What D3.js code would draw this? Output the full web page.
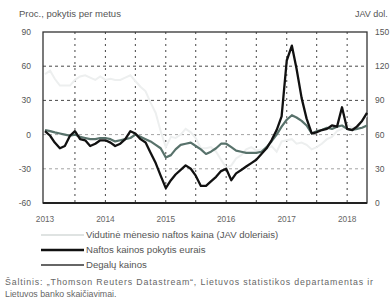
<!DOCTYPE html>
<html>
<head>
<meta charset="utf-8">
<script src="https://cdn.jsdelivr.net/npm/d3@7"></script>
<style>
    body { margin: 0; background: #fff; }
    text { font-family: "Liberation Sans", Arial, sans-serif; }
</style>
</head>
<body>
<div id="chart"></div>
<script>
    // monthly data, Jan 2013 - May 2018
    var startMonth = new Date(2013, 0, 1);
    var yearTicks = ['2013', '2014', '2015', '2016', '2017', '2018'];
    var leftTicks = [-60, -30, 0, 30, 60, 90];
    var rightTicks = [0, 30, 60, 90, 120, 150];

    var oilUsd = [113, 116, 109, 103, 103, 103, 108, 111, 112, 110, 108, 111,
                  108, 109, 108, 108, 110, 112, 107, 102, 98, 88, 79, 63,
                  49, 58, 57, 60, 65, 62, 57, 48, 48, 49, 45, 38,
                  31, 33, 39, 42, 47, 49, 46, 47, 47, 50, 45, 54,
                  55, 56, 52, 53, 51, 47, 49, 52, 56, 58, 63, 65,
                  69, 66, 66, 72, 77];
    var oilEurChange = [3, -1, -7, -12, -10, -1, 3, -4, -5, -10, -8, -5,
                        -5, -7, -10, -8, -4, 3, 1, -4, -7, -16, -25, -36,
                        -47, -40, -35, -31, -27, -30, -36, -45, -45, -41, -37, -32,
                        -30, -40, -34, -31, -28, -25, -22, -17, -12, -5, 4, 16,
                        65, 78, 58, 32, 14, 1, 2, 4, 5, 8, 7, 24,
                        5, 4, 7, 12, 19];
    var fuelChange = [4, 3, 2, 1, 0, -1, 0, -2, -3, -4, -4, -3,
                      -3, -4, -6, -5, -4, -3, 0, -2, -4, -6, -9, -12,
                      -20, -18, -13, -9, -8, -7, -10, -13, -17, -15, -12, -8,
                      -8, -11, -14, -15, -16, -16, -16, -15, -11, -6, 0, 7,
                      13, 17, 15, 12, 8, 1, 3, 4, 6, 5, 7, 8,
                      5, 4, 5, 6, 8];
    var legendLabels = ['Vidutinė mėnesio naftos kaina (JAV doleriais)',
                        'Naftos kainos pokytis eurais',
                        'Degalų kainos'];

(function () {
    'use strict';

    var w = 390, h = 306,
        x0 = 45, x1 = 367,        // plot edges
        y0 = 32, y1 = 203;

    var months = oilUsd.map(function (d, i) {
        return d3.timeMonth.offset(startMonth, i);
    });

    var x = d3.scaleTime()
        .domain([months[0], months[months.length - 1]])
        .range([x0, x1]);
    var yL = d3.scaleLinear().domain([-60, 90]).range([y1, y0]);
    var yR = d3.scaleLinear().domain([0, 150]).range([y1, y0]);

    var svg = d3.select('#chart').append('svg')
        .attr('width', w)
        .attr('height', h);

    // grid
    var halfYears = d3.timeMonth.every(6).range(d3.timeMonth.offset(startMonth, 6), months[months.length - 1]);
    svg.append('g').selectAll('line')
        .data(halfYears)
        .enter().append('line')
        .attr('x1', function (d) { return x(d); })
        .attr('x2', function (d) { return x(d); })
        .attr('y1', y0).attr('y2', y1)
        .attr('stroke', '#444')
        .attr('stroke-width', 1)
        .attr('stroke-dasharray', '2,4');

    svg.append('g').selectAll('line')
        .data(leftTicks.slice(1, -1))
        .enter().append('line')
        .attr('x1', x0 - 2).attr('x2', x1)
        .attr('y1', function (d) { return yL(d); })
        .attr('y2', function (d) { return yL(d); })
        .attr('stroke', function (d) { return d > 0 ? '#333' : '#999'; })
        .attr('stroke-width', 0.9)
        .attr('stroke-dasharray', '3,3');

    // frame
    svg.append('rect')
        .attr('x', x0 - 2).attr('y', y0)
        .attr('width', x1 - x0 + 2).attr('height', y1 - y0)
        .attr('fill', 'none')
        .attr('stroke', '#333')
        .attr('stroke-width', 1.3);
    svg.append('line')
        .attr('x1', x0 - 2).attr('x2', x1)
        .attr('y1', y1).attr('y2', y1)
        .attr('stroke', '#222')
        .attr('stroke-width', 2);

    // axis labels
    svg.append('g').selectAll('text')
        .data(leftTicks)
        .enter().append('text')
        .attr('x', 31)
        .attr('y', function (d) { return yL(d) + 3; })
        .attr('text-anchor', 'end')
        .attr('font-size', 8.5)
        .attr('fill', '#555')
        .text(function (d) { return d; });

    svg.append('g').selectAll('text')
        .data(rightTicks)
        .enter().append('text')
        .attr('x', 375)
        .attr('y', function (d) { return yR(d) + 3; })
        .attr('font-size', 8.5)
        .attr('fill', '#555')
        .text(function (d) { return d; });

    svg.append('g').selectAll('text')
        .data(yearTicks)
        .enter().append('text')
        .attr('x', function (d) { return x(new Date(+d, 0, 1)); })
        .attr('y', 222)
        .attr('text-anchor', 'middle')
        .attr('font-size', 8.3)
        .attr('fill', '#666')
        .text(function (d) { return d; });

    svg.append('text')
        .attr('x', 19).attr('y', 17)
        .attr('font-size', 9.5)
        .attr('fill', '#555')
        .text('Proc., pokytis per metus');
    svg.append('text')
        .attr('x', 355).attr('y', 17)
        .attr('font-size', 9)
        .attr('fill', '#555')
        .text('JAV dol.');

    // lines
    var lineR = d3.line()
        .x(function (d, i) { return x(months[i]); })
        .y(function (d) { return yR(d); });
    var lineL = d3.line()
        .x(function (d, i) { return x(months[i]); })
        .y(function (d) { return yL(d); });

    svg.append('path')
        .attr('d', lineR(oilUsd))
        .attr('fill', 'none')
        .attr('stroke', '#edefef')
        .attr('stroke-width', 2);

    svg.append('path')
        .attr('d', lineL(fuelChange))
        .attr('fill', 'none')
        .attr('stroke', '#58726b')
        .attr('stroke-width', 2.2)
        .attr('stroke-linejoin', 'round');

    svg.append('path')
        .attr('d', lineL(oilEurChange))
        .attr('fill', 'none')
        .attr('stroke', '#111')
        .attr('stroke-width', 2.3)
        .attr('stroke-linejoin', 'round');

    // legend
    var legendStyle = [
        { color: '#dfe3e2', width: 2 },
        { color: '#111', width: 2.5 },
        { color: '#333', width: 1.4 }
    ];
    var legend = svg.append('g').selectAll('g')
        .data(legendLabels)
        .enter().append('g')
        .attr('transform', function (d, i) { return 'translate(0,' + (235 + i * 15) + ')'; });
    legend.append('line')
        .attr('x1', 41).attr('x2', 84)
        .attr('stroke', function (d, i) { return legendStyle[i].color; })
        .attr('stroke-width', function (d, i) { return legendStyle[i].width; });
    legend.append('text')
        .attr('x', 86).attr('y', 3)
        .attr('font-size', 9.6)
        .attr('fill', '#555')
        .text(function (d) { return d; });

    // source, first line justified to the full width
    svg.append('text')
        .attr('x', 5).attr('y', 285)
        .attr('font-size', 8.8)
        .attr('fill', '#666')
        .attr('textLength', 368)
        .attr('lengthAdjust', 'spacing')
        .text('Šaltinis: „Thomson Reuters Datastream“, Lietuvos statistikos departamentas ir');
    svg.append('text')
        .attr('x', 5).attr('y', 297)
        .attr('font-size', 8.8)
        .attr('fill', '#666')
        .text('Lietuvos banko skaičiavimai.');
})();
</script>
</body>
</html>
